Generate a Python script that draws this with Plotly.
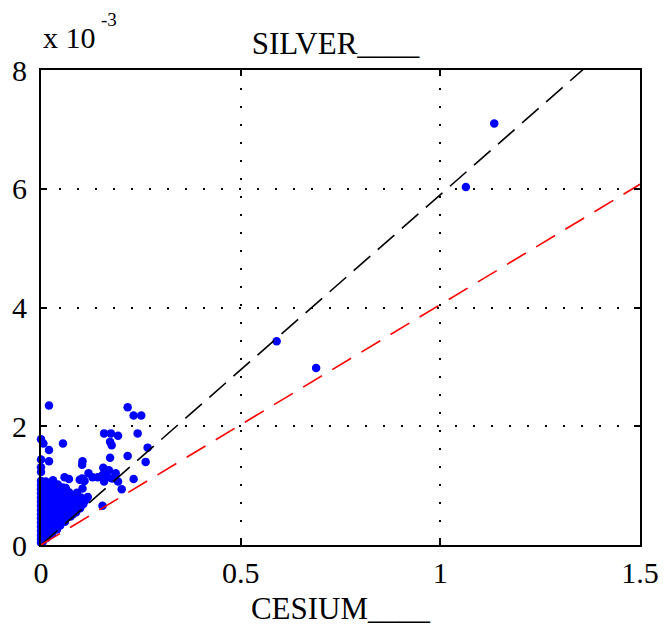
import plotly.graph_objects as go

# Isotope activity ratios: CESIUM (x) vs SILVER (y, in units of 1e-3)
outlier_x = [1.135, 1.064, 0.590, 0.689]
outlier_y = [7.10, 6.03, 3.43, 2.98]

scatter_x = [
    0.020, 0.217, 0.232, 0.251, 0.158, 0.175, 0.193, 0.242, 0.000, 0.006,
    0.055, 0.173, 0.177, 0.020, 0.267, 0.217, 0.173, 0.000, 0.020, 0.104,
    0.262, 0.103, 0.000, 0.000, 0.156, 0.162, 0.170, 0.187, 0.154, 0.166,
    0.178, 0.158, 0.193, 0.232, 0.202, 0.154, 0.119, 0.103, 0.109, 0.129,
    0.142, 0.104, 0.117, 0.088, 0.072, 0.055, 0.030, 0.059, 0.070, 0.097,
]
scatter_y = [
    2.35, 2.32, 2.18, 2.18, 1.88, 1.88, 1.84, 1.88, 1.78, 1.71,
    1.71, 1.74, 1.68, 1.60, 1.64, 1.50, 1.47, 1.44, 1.41, 1.41,
    1.40, 1.35, 1.31, 1.23, 1.30, 1.23, 1.26, 1.21, 1.18, 1.14,
    1.12, 1.07, 1.07, 1.11, 0.94, 0.66, 1.21, 1.12, 1.08, 1.14,
    1.14, 0.95, 0.81, 0.79, 0.76, 0.97, 1.01, 1.14, 1.11, 1.10,
]

# dense group of low-activity samples near the origin
cluster_x = [
    0.000, 0.004,
    0.000, 0.008, 0.014,
    0.000, 0.010, 0.020, 0.028,
    0.000, 0.010, 0.020, 0.030, 0.040,
    0.000, 0.012, 0.024, 0.036, 0.048,
    0.000, 0.012, 0.024, 0.036, 0.048, 0.060,
    0.000, 0.012, 0.025, 0.038, 0.050, 0.062, 0.074,
    0.000, 0.013, 0.026, 0.040, 0.053, 0.066, 0.080, 0.088,
    0.000, 0.013, 0.027, 0.040, 0.055, 0.070, 0.085, 0.098,
    0.000, 0.014, 0.028, 0.042, 0.058, 0.074, 0.090, 0.106,
    0.000, 0.014, 0.030, 0.045, 0.060, 0.078, 0.095, 0.112,
    0.000, 0.015, 0.030, 0.046, 0.062, 0.080, 0.100,
    0.000, 0.015, 0.032, 0.050, 0.070, 0.090,
    0.000, 0.012, 0.028, 0.045, 0.062,
    0.000, 0.010, 0.025, 0.042,
    0.000, 0.012, 0.030,
]
cluster_y = [
    0.04, 0.05,
    0.10, 0.11, 0.12,
    0.17, 0.18, 0.16, 0.19,
    0.24, 0.25, 0.23, 0.25, 0.26,
    0.31, 0.32, 0.30, 0.31, 0.33,
    0.38, 0.39, 0.37, 0.38, 0.40, 0.39,
    0.45, 0.46, 0.44, 0.45, 0.47, 0.46, 0.48,
    0.52, 0.53, 0.51, 0.52, 0.54, 0.53, 0.52, 0.55,
    0.59, 0.60, 0.58, 0.59, 0.61, 0.60, 0.59, 0.62,
    0.66, 0.67, 0.65, 0.66, 0.68, 0.67, 0.66, 0.69,
    0.73, 0.74, 0.72, 0.73, 0.75, 0.74, 0.73, 0.76,
    0.80, 0.81, 0.79, 0.80, 0.82, 0.81, 0.80,
    0.87, 0.88, 0.86, 0.87, 0.89, 0.88,
    0.94, 0.95, 0.93, 0.94, 0.96,
    1.01, 1.02, 1.00, 1.02,
    1.08, 1.07, 1.09,
]

# reference ratio lines (slope in 1e-3 per unit CESIUM)
line_x = [0.0, 1.5]
slope_black = 5.9
slope_red = 4.05

xs = outlier_x + scatter_x + cluster_x
ys = outlier_y + scatter_y + cluster_y

serif = "Liberation Serif"

fig = go.Figure()
fig.add_trace(go.Scatter(
    x=xs, y=ys, mode="markers",
    marker=dict(color="#0000ff", size=8.5, line=dict(width=0)),
    cliponaxis=False, showlegend=False,
))
fig.add_trace(go.Scatter(
    x=line_x, y=[slope_black * v for v in line_x], mode="lines",
    line=dict(color="black", width=1.6, dash="22px,10px"), showlegend=False,
))
fig.add_trace(go.Scatter(
    x=line_x, y=[slope_red * v for v in line_x], mode="lines",
    line=dict(color="#ff0000", width=1.6, dash="22px,12px"), showlegend=False,
))

axis_common = dict(
    showline=True, linecolor="black", linewidth=2, mirror="ticks",
    ticks="inside", ticklen=6, tickwidth=1.5, tickcolor="black",
    showgrid=True, gridcolor="black", gridwidth=1.5, griddash="2px,16px",
    zeroline=False, tickfont=dict(family=serif, size=30, color="black"),
)

fig.update_xaxes(range=[0, 1.5], tickvals=[0, 0.5, 1, 1.5],
                 ticktext=["0", "0.5", "1", "1.5"],
                 title=dict(text="CESIUM____", font=dict(family=serif, size=31, color="black"), standoff=9),
                 **axis_common)
fig.update_yaxes(range=[0, 8], tickvals=[0, 2, 4, 6, 8],
                 ticktext=["0", "2", "4", "6", "8"], ticklabelstandoff=6, **axis_common)

fig.update_layout(
    width=671, height=634,
    margin=dict(l=41, r=23, t=70, b=89),
    plot_bgcolor="white", paper_bgcolor="white",
    title=dict(text="SILVER____", x=0.5, xanchor="center", y=1 - 43 / 634, yanchor="middle",
               font=dict(family=serif, size=31, color="black")),
    annotations=[
        dict(text="x 10", xref="paper", yref="paper", x=0.0, y=1.0,
             xanchor="left", yanchor="bottom", yshift=14, showarrow=False,
             font=dict(family=serif, size=30, color="black")),
        dict(text="-3", xref="paper", yref="paper", x=0.0, y=1.0,
             xanchor="left", yanchor="bottom", xshift=58, yshift=38, showarrow=False,
             font=dict(family=serif, size=19, color="black")),
    ],
)

fig.write_html("out.html")
